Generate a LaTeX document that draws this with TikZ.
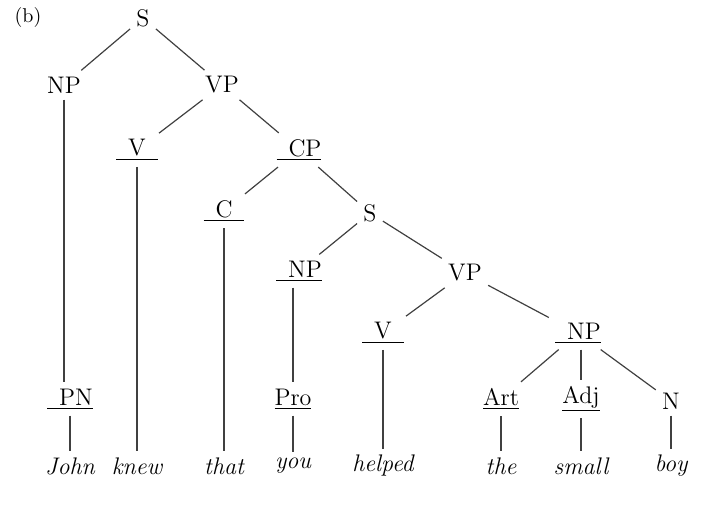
\documentclass[tikz,border=0pt]{standalone}
\usepackage{tikz}

\newcommand{\padcat}[3]{\underline{\hspace{#1}#2\hspace{#3}}}

\begin{document}
\begin{tikzpicture}[x=0.5pt,y=-0.5pt,
        cat/.style={inner sep=3pt, font=\large},
        word/.style={inner sep=3pt, font=\large\itshape},
        branch/.style={draw=black!75, line width=0.6pt}]
    \useasboundingbox (0,0) rectangle (707,506);

    % label of the tree
    \node[cat, font=\normalsize] (tag) at (28,18) {(b)};

    % categories
    \node[cat] (s1)  at (143,18)  {S};
    \node[cat] (np1) at (64,85)   {NP};
    \node[cat] (vp1) at (222,85)  {VP};
    \node[cat] (v1)  at (137,150) {\padcat{6pt}{V}{6pt}};
    \node[cat] (cp)  at (299,150) {\padcat{6pt}{CP}{0pt}};
    \node[cat] (c)   at (224,211) {\padcat{6pt}{C}{6pt}};
    \node[cat] (s2)  at (370,213) {S};
    \node[cat] (np2) at (299,271) {\padcat{6pt}{NP}{0pt}};
    \node[cat] (vp2) at (465,273) {VP};
    \node[cat] (v2)  at (383,333) {\padcat{6pt}{V}{6pt}};
    \node[cat] (np3) at (578,333) {\padcat{6pt}{NP}{0pt}};
    \node[cat] (pn)  at (70,399)  {\padcat{6pt}{PN}{0pt}};
    \node[cat] (pro) at (293,399) {\underline{Pro}};
    \node[cat] (art) at (501,399) {\underline{Art}};
    \node[cat] (adj) at (581,399) {\underline{Adj}};
    \node[cat] (n)   at (671,401) {N};

    % words
    \node[word] (john)   at (70,466)  {John};
    \node[word] (knew)   at (137,466) {knew};
    \node[word] (that)   at (224,466) {that};
    \node[word] (you)    at (293,466) {you};
    \node[word] (helped) at (383,466) {helped};
    \node[word] (the)    at (501,466) {the};
    \node[word] (small)  at (581,466) {small};
    \node[word] (boy)    at (671,466) {boy};

    % branches
    \draw[branch] (s1) -- (np1);
    \draw[branch] (s1) -- (vp1);
    \draw[branch] (np1) -- (np1 |- pn.north);
    \draw[branch] (vp1) -- (v1);
    \draw[branch] (vp1) -- (cp);
    \draw[branch] (cp) -- (c);
    \draw[branch] (cp) -- (s2);
    \draw[branch] (s2) -- (np2);
    \draw[branch] (s2) -- (vp2);
    \draw[branch] (vp2) -- (v2);
    \draw[branch] (vp2) -- (np3);
    \draw[branch] (pro |- np2.south) -- (pro);
    \draw[branch] (np3) -- (art);
    \draw[branch] (adj |- np3.south) -- (adj);
    \draw[branch] (np3) -- (n);

    % leaves
    \draw[branch] (pn) -- (john);
    \draw[branch] (v1) -- (knew);
    \draw[branch] (c) -- (that);
    \draw[branch] (pro) -- (you);
    \draw[branch] (v2) -- (helped);
    \draw[branch] (art) -- (the);
    \draw[branch] (adj) -- (small);
    \draw[branch] (n) -- (boy);
\end{tikzpicture}
\end{document}
